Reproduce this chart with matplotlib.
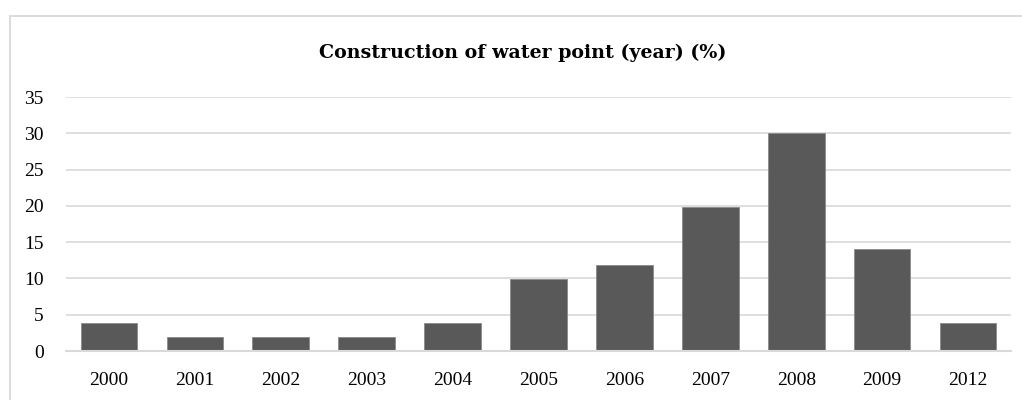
import matplotlib
matplotlib.use("Agg")
import matplotlib.pyplot as plt
from matplotlib.patches import Rectangle

years = ["2000", "2001", "2002", "2003", "2004", "2005", "2006", "2007", "2008", "2009", "2012"]
values = [3.9, 1.9, 1.9, 1.9, 3.8, 9.9, 11.9, 19.9, 30.0, 14.0, 3.8]
yticks = [0, 5, 10, 15, 20, 25, 30, 35]
title = "Construction of water point (year) (%)"

plt.rcParams['font.family'] = ['Liberation Serif', 'DejaVu Serif']

W, H = 1022, 400
fig = plt.figure(figsize=(W / 100, H / 100), dpi=100)
fig.patch.set_facecolor("white")

# chart frame (cut at right and bottom)
fig.patches.append(Rectangle((9.5 / W, -0.1), 1.2, 1 - 15.5 / H + 0.1,
                             transform=fig.transFigure, fill=False,
                             edgecolor="#d9d9d9", linewidth=1.3))

ax = fig.add_axes([66 / W, 1 - 351 / H, (1011 - 66) / W, (351 - 97) / H])
x = list(range(len(years)))
ax.bar(x, values, width=0.66, color="#595959", edgecolor="#8a8a8a", linewidth=0.6, zorder=3)
ax.set_xlim(-0.5, len(years) - 0.5)
ax.set_ylim(0, 35)
ax.set_yticks(yticks)
ax.set_xticks(x)
ax.set_xticklabels(years)
ax.grid(axis="y", color="#d9d9d9", linewidth=1.2, zorder=0)
for s in ["top", "right", "left"]:
    ax.spines[s].set_visible(False)
ax.spines["bottom"].set_color("#d9d9d9")
ax.spines["bottom"].set_linewidth(1.5)
ax.spines["bottom"].set_zorder(4)
ax.tick_params(axis="both", length=0, labelsize=14, colors="#000000")
ax.tick_params(axis="y", pad=16)
ax.tick_params(axis="x", pad=15)

fig.text(523 / W, 1 - 53 / H, title, ha="center", va="center",
         fontsize=13.7, fontweight="bold", color="#000000",
         family=["DejaVu Serif"])

fig.savefig("out.png", dpi=100, facecolor="white")
